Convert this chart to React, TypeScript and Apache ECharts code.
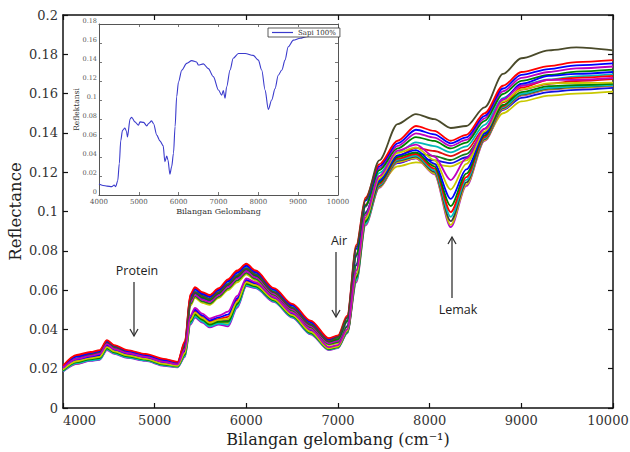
import React, { useEffect, useRef } from 'react';
import * as echarts from 'echarts';

// Wavenumbers (cm-1) at which the main spectra are read
const WAVENUMBERS = [4000, 4150, 4300, 4400, 4480, 4560, 4700, 4900, 5100, 5250, 5330, 5390, 5440, 5520, 5600, 5700, 5800, 5900, 6000, 6100, 6300, 6500, 6700, 6900, 7000, 7100, 7200, 7300, 7450, 7650, 7850, 8050, 8230, 8400, 8600, 8800, 9000, 9300, 9600, 10000];

// "Normal" spectra
const N1 = [.020,.025,.027,.028,.033,.031,.028,.026,.0235,.022,.031,.055,.059,.057,.0555,.059,.063,.0675,.071,.068,.059,.051,.0425,.034,.036,.046,.082,.106,.126,.1445,.1496,.147,.1425,.1435,.153,.170,.178,.182,.1835,.182];
const N2 = [.0215,.027,.0285,.0295,.0345,.032,.0295,.0275,.025,.0235,.034,.058,.0615,.059,.0575,.061,.0655,.070,.0735,.070,.061,.053,.0445,.0355,.037,.047,.083,.107,.124,.136,.1435,.141,.136,.139,.150,.164,.171,.174,.176,.177];
const N3 = [.021,.0261,.0277,.0286,.0336,.0312,.0288,.0269,.0244,.023,.033,.0568,.0604,.0579,.0565,.060,.0644,.0688,.0724,.069,.0602,.0522,.0437,.0348,.0362,.046,.081,.1055,.123,.1347,.1416,.1393,.1347,.1377,.1487,.1626,.1695,.1725,.1744,.1754];
const N4 = [.0203,.0248,.0265,.0273,.0323,.030,.0278,.026,.0235,.0223,.0315,.055,.0588,.0563,.055,.0585,.0628,.067,.0708,.0675,.059,.051,.0425,.0338,.035,.0442,.0778,.103,.121,.1321,.1379,.1359,.1321,.1351,.1461,.1598,.1665,.1695,.1712,.1722];
const N5 = [.0206,.0254,.0271,.0279,.0329,.0306,.0283,.0265,.024,.0226,.0322,.0559,.0596,.0571,.0557,.0592,.0636,.0679,.0716,.0682,.0596,.0516,.0431,.0343,.0356,.0442,.0778,.103,.1195,.1301,.1352,.1333,.1301,.1331,.1441,.1577,.1642,.1672,.1688,.1698];
const N6 = [.0197,.0238,.0257,.0263,.0313,.0292,.027,.0254,.0229,.0217,.0305,.0538,.0576,.0551,.054,.0575,.0616,.0658,.0696,.0665,.0582,.0502,.0417,.033,.0342,.0438,.0771,.1025,.122,.1334,.1398,.1376,.1334,.1364,.1474,.1612,.168,.171,.1728,.1738];
const N7 = [.0213,.0266,.0281,.0291,.0341,.0316,.0292,.0272,.0247,.0233,.0335,.0574,.0609,.0584,.057,.0605,.0649,.0694,.0729,.0695,.0606,.0526,.0441,.0352,.0366,.0445,.0784,.1035,.118,.1282,.1324,.1308,.1282,.1312,.1422,.1556,.162,.165,.1664,.1674];
const N8 = [.0194,.0232,.0251,.0257,.0307,.0286,.0265,.0249,.0224,.0214,.0297,.0529,.0568,.0543,.0532,.0567,.0608,.0649,.0688,.0657,.0576,.0496,.0411,.0325,.0336,.0414,.0726,.099,.1165,.1262,.1296,.1282,.1262,.1292,.1402,.1535,.1597,.1627,.164,.165];
const N9 = [.020,.0243,.0261,.0268,.0318,.0296,.0274,.0257,.0232,.022,.031,.0544,.0582,.0557,.0545,.058,.0622,.0664,.0702,.067,.0586,.0506,.0421,.0334,.0346,.0417,.0732,.0995,.1152,.1246,.1272,.126,.1246,.1276,.1386,.1517,.1578,.1608,.1619,.1629];
const N10 = [.019,.0225,.0245,.025,.030,.028,.026,.0245,.022,.021,.029,.052,.056,.0535,.0525,.056,.060,.064,.068,.065,.057,.049,.0405,.032,.033,.040,.070,.097,.114,.123,.125,.124,.123,.126,.137,.150,.156,.159,.160,.161];

// High-fat ("Lemak") spectra
const L1 = [.0205,.025,.0265,.0275,.0325,.030,.028,.026,.0235,.0222,.030,.047,.051,.048,.0455,.047,.049,.057,.066,.064,.0565,.0485,.040,.031,.032,.040,.070,.098,.118,.131,.134,.128,.116,.127,.142,.157,.164,.167,.167,.168];
const L2 = [.0195,.0238,.0253,.026,.031,.0288,.0268,.025,.0225,.0215,.028,.0448,.0485,.0458,.0433,.0448,.0453,.054,.064,.0625,.0553,.0473,.0388,.0303,.0313,.0393,.0679,.0962,.1168,.1298,.1326,.1262,.1112,.1242,.1408,.156,.1622,.1652,.1654,.1656];
const L3 = [.0201,.0245,.026,.0269,.0319,.0295,.0275,.0256,.0231,.0219,.0292,.0461,.050,.0471,.0446,.0461,.0475,.0558,.0652,.0634,.056,.048,.0395,.0307,.0317,.0394,.0682,.0965,.1156,.1286,.1312,.1244,.1064,.1214,.1396,.157,.165,.169,.170,.171];
const L4 = [.0191,.0233,.0248,.0254,.0304,.0283,.0263,.0246,.0221,.0212,.0272,.0439,.0475,.0449,.0424,.0439,.0438,.0528,.0632,.0619,.0548,.0468,.0383,.030,.031,.0388,.0663,.0949,.1147,.1277,.1301,.123,.1028,.1193,.1387,.1542,.1608,.1638,.1643,.1649];
const L5 = [.0198,.0241,.0256,.0264,.0314,.0291,.0271,.0253,.0228,.0217,.0286,.0454,.0492,.0464,.0439,.0454,.0464,.0549,.0646,.0629,.0556,.0476,.0391,.0305,.0315,.039,.067,.0955,.1139,.1269,.1292,.1219,.0997,.1175,.1379,.1536,.163,.167,.168,.169];
const L6 = [.0187,.0228,.0243,.0248,.0298,.0278,.0258,.0242,.0217,.0209,.0264,.043,.0465,.044,.0415,.043,.0423,.0516,.0624,.0613,.0543,.0463,.0378,.0297,.0307,.0383,.065,.0938,.1133,.1263,.1285,.121,.0973,.1161,.1373,.1531,.1599,.1629,.1637,.1644];
const L7 = [.0193,.0235,.025,.0257,.0307,.0285,.0265,.0248,.0223,.0213,.0276,.0443,.048,.0453,.0428,.0443,.0445,.0534,.0636,.0622,.055,.047,.0385,.0301,.0311,.0385,.0656,.0943,.1128,.1258,.1279,.1202,.0951,.1148,.1368,.1526,.1595,.1625,.1634,.1643];
const L8 = [.0189,.023,.0245,.0251,.0301,.028,.026,.0244,.0219,.021,.0268,.0434,.047,.0444,.0419,.0434,.043,.0522,.0628,.0616,.0545,.0465,.038,.0298,.0308,.0382,.0647,.0936,.1123,.1253,.1273,.1194,.0932,.1137,.1363,.1522,.1592,.1622,.1631,.1641];
const L9 = [.0185,.0225,.024,.0245,.0295,.0275,.0255,.024,.0215,.0207,.026,.0425,.046,.0435,.041,.0425,.0415,.051,.062,.061,.054,.046,.0375,.0295,.0305,.038,.064,.093,.112,.125,.127,.119,.092,.113,.136,.152,.159,.162,.163,.164];

const SPECTRA = [N10, N9, N8, N7, N6, N5, N4, N3, N2, N1, L9, L8, L7, L6, L5, L4, L3, L2, L1];
const SPECTRA_COLORS = ['#c8c800', '#1010e0', '#1a7a1a', '#e01010', '#bf00bf', '#00b8b8', '#008000', '#0000ff', '#ff0000', '#4a4a2a', '#b000d0', '#c8c800', '#404040', '#00bfbf', '#ff0000', '#008000', '#0000ff', '#c8c800', '#c000c0'];

// Inset spectrum "Sapi 100%"
const INSET_WN = [4000, 4100, 4200, 4320, 4380, 4420, 4470, 4510, 4545, 4590, 4650, 4690, 4715, 4780, 4820, 4900, 4990, 5030, 5120, 5200, 5250, 5320, 5370, 5450, 5530, 5610, 5655, 5700, 5730, 5780, 5825, 5870, 5910, 5950, 5995, 6080, 6200, 6330, 6450, 6495, 6620, 6745, 6870, 7000, 7080, 7120, 7165, 7205, 7290, 7370, 7500, 7670, 7870, 8000, 8085, 8170, 8250, 8335, 8420, 8500, 8590, 8670, 8750, 8880, 9050, 9210, 9630, 9920, 10000];
const INSET_VAL = [.0115, .010, .0093, .0088, .0105, .0088, .015, .033, .057, .068, .0705, .067, .061, .080, .0818, .077, .0735, .077, .0765, .0728, .0755, .078, .075, .063, .057, .052, .035, .041, .037, .022, .030, .044, .072, .1035, .119, .1316, .1386, .1414, .140, .1368, .138, .133, .1246, .1105, .105, .110, .102, .114, .1316, .144, .149, .149, .147, .142, .1316, .1105, .090, .100, .112, .126, .1316, .142, .156, .163, .165, .1667, .170, .1737, .175];

const SERIF = '"DejaVu Serif", serif';
const SANS = '"Open Sans", sans-serif';

function frameAxis(extra: any) {
  return {
    type: 'value',
    splitLine: { show: false },
    axisLine: { show: true, onZero: false, lineStyle: { color: '#111', width: 1.5 } },
    axisTick: { show: true, inside: true, length: 5, lineStyle: { color: '#111', width: 1.2 } },
    ...extra,
  };
}

function insetAxis(extra: any) {
  return {
    type: 'value',
    splitLine: { show: false },
    axisLine: { show: true, onZero: false, lineStyle: { color: '#555', width: 1 } },
    axisTick: { show: true, inside: true, length: 3, lineStyle: { color: '#555', width: 0.8 } },
    ...extra,
  };
}

function arrow(x: number, y1: number, y2: number) {
  const dir = y2 > y1 ? -1 : 1;
  return [
    { type: 'line', shape: { x1: x, y1, x2: x, y2 }, style: { stroke: '#333', lineWidth: 1.3 }, z: 20 },
    { type: 'polyline', shape: { points: [[x - 4, y2 + dir * 7], [x, y2], [x + 4, y2 + dir * 7]] }, style: { stroke: '#333', lineWidth: 1.3, fill: 'none' }, z: 20 },
  ];
}

function label(text: string, x: number, y: number) {
  return {
    type: 'text', x, y, z: 20,
    style: { text, fill: '#222', font: `12.5px ${SANS}`, textAlign: 'center', textVerticalAlign: 'middle', align: 'center', verticalAlign: 'middle' },
  };
}

const plain = (v: number) => String(v);

export default function App() {
  const ref = useRef<HTMLDivElement>(null);
  useEffect(() => {
    const chart = echarts.init(ref.current!, null, { renderer: 'svg' });
    const mainSeries = SPECTRA.map((vals, k) => ({
      type: 'line',
      name: 'Sampel ' + (k + 1),
      xAxisIndex: 0,
      yAxisIndex: 0,
      data: WAVENUMBERS.map((w, i) => [w, vals[i]]),
      symbol: 'none',
      smooth: 0.3,
      smoothMonotone: 'x',
      silent: true,
      color: SPECTRA_COLORS[k],
      lineStyle: { color: SPECTRA_COLORS[k], width: 1.8 },
    }));
    const option: any = {
      animation: false,
      backgroundColor: '#fff',
      grid: [
        { left: 63, top: 15, width: 550, height: 393, outerBoundsMode: 'none', containLabel: false },
        { left: 99, top: 24, width: 239, height: 171, show: true, backgroundColor: '#fff', borderWidth: 0, outerBoundsMode: 'none', containLabel: false },
      ],
      legend: {
        data: ['Sapi 100%'], left: 268, top: 28, orient: 'horizontal', padding: [1, 4],
        itemWidth: 21, itemHeight: 1.2, icon: 'rect', itemGap: 5,
        borderColor: '#333', borderWidth: 0.8, backgroundColor: '#fff', borderRadius: 0,
        textStyle: { fontFamily: SERIF, fontSize: 7, color: '#333' }, selectedMode: false, z: 10,
      },
      xAxis: [
        frameAxis({
          gridIndex: 0, min: 4000, max: 10000, interval: 1000, position: 'bottom',
          axisLabel: {
            margin: 6, fontFamily: SERIF, fontSize: 13, color: '#333', alignMinLabel: 'left',
            formatter: (v: number) => (v === 10000 ? '{m|10000}' : String(v)),
            rich: { m: { fontFamily: SERIF, fontSize: 13, color: '#333', padding: [0, 10, 0, 0] } },
          },
          name: 'Bilangan gelombang (cm\u207B\u00B9)', nameLocation: 'middle', nameGap: 23, nameMoveOverlap: false,
          nameTextStyle: { fontFamily: SERIF, fontSize: 16, color: '#222' },
        }),
        frameAxis({ gridIndex: 0, min: 4000, max: 10000, interval: 1000, position: 'top', axisLabel: { show: false } }),
        insetAxis({
          gridIndex: 1, min: 4000, max: 10000, interval: 1000, position: 'bottom',
          axisLabel: { margin: 3, fontFamily: SERIF, fontSize: 7, color: '#555', formatter: plain },
          name: 'Bilangan Gelombang', nameLocation: 'middle', nameGap: 12, nameMoveOverlap: false,
          nameTextStyle: { fontFamily: SERIF, fontSize: 8, color: '#333' },
        }),
        insetAxis({ gridIndex: 1, min: 4000, max: 10000, interval: 1000, position: 'top', axisLabel: { show: false } }),
      ],
      yAxis: [
        frameAxis({
          gridIndex: 0, min: 0, max: 0.2, interval: 0.02, position: 'left',
          axisLabel: { margin: 5, fontFamily: SERIF, fontSize: 13, color: '#333', formatter: plain },
          name: 'Reflectance', nameLocation: 'middle', nameGap: 39, nameMoveOverlap: false,
          nameTextStyle: { fontFamily: SERIF, fontSize: 16.5, color: '#222' },
        }),
        frameAxis({ gridIndex: 0, min: 0, max: 0.2, interval: 0.02, position: 'right', axisLabel: { show: false } }),
        insetAxis({
          gridIndex: 1, min: 0, max: 0.18, interval: 0.02, position: 'left',
          axisLabel: { margin: 2, fontFamily: SERIF, fontSize: 6.5, color: '#555', verticalAlign: 'bottom', formatter: plain },
          name: 'Reflektansi', nameLocation: 'middle', nameGap: 19, nameMoveOverlap: false,
          nameTextStyle: { fontFamily: SERIF, fontSize: 7.5, color: '#333' },
        }),
        insetAxis({ gridIndex: 1, min: 0, max: 0.18, interval: 0.02, position: 'right', axisLabel: { show: false } }),
      ],
      series: [
        ...mainSeries,
        {
          type: 'line', name: 'Sapi 100%', xAxisIndex: 2, yAxisIndex: 2,
          data: INSET_WN.map((w, i) => [w, INSET_VAL[i]]),
          symbol: 'none', smooth: 0.3, smoothMonotone: 'x', silent: true, z: 3,
          color: '#3a3acc', lineStyle: { color: '#3a3acc', width: 1.1 },
        },
      ],
      graphic: [
        label('Protein', 137, 270),
        ...arrow(134, 282, 336),
        label('Air', 339, 240),
        ...arrow(336, 252, 317),
        ...arrow(452, 298, 237),
        label('Lemak', 458, 309),
      ],
    };
    chart.setOption(option);
    return () => chart.dispose();
  }, []);
  return <div ref={ref} style={{ position: 'fixed', left: 0, top: 0, width: 630, height: 452, background: '#fff' }} />;
}
